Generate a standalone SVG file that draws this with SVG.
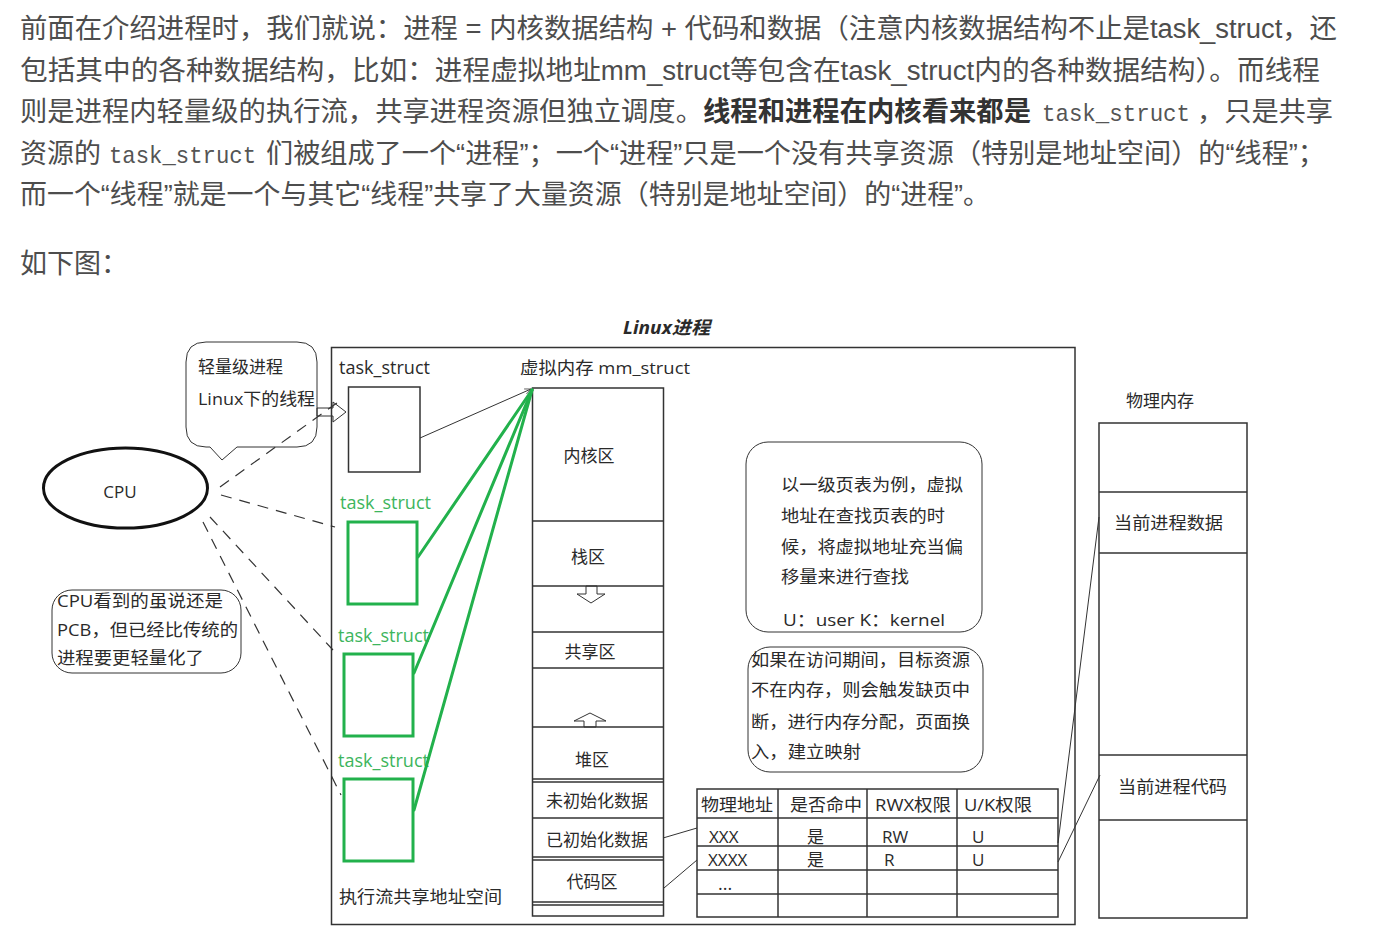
<svg xmlns="http://www.w3.org/2000/svg" width="1381" height="928" viewBox="0 0 1381 928">
<defs>
<style>
.p{font-family:"Liberation Sans","Noto Sans CJK SC",sans-serif;font-size:27px;fill:#4d4d4d}
.b{font-weight:bold;fill:#333}
.m{font-family:"Liberation Mono","DejaVu Sans Mono",monospace;font-size:24px;fill:#555}
.t{font-family:"Open Sans","Noto Sans CJK SC",sans-serif;font-size:18px;fill:#2a2a2a}
.s{font-size:17px}
.c{text-anchor:middle}
.gt{fill:#3db55c}
.ln{fill:none;stroke:#333;stroke-width:1.5}
.thin{fill:none;stroke:#333;stroke-width:1}
.gr{fill:none;stroke:#22b14c;stroke-width:3}
.gl{fill:none;stroke:#22b14c;stroke-width:3;stroke-linecap:round}
.dash{fill:none;stroke:#333;stroke-width:1.2;stroke-dasharray:11 8}
</style>
<marker id="ah" viewBox="0 0 10 10" refX="9" refY="5" markerWidth="7" markerHeight="7" orient="auto">
<path d="M0,1 L9,5 L0,9" fill="none" stroke="#333" stroke-width="1"/>
</marker>
</defs>
<rect width="1381" height="928" fill="#fff"/>

<g id="paragraph">
<text class="p" x="20" y="38" textLength="1317" lengthAdjust="spacingAndGlyphs">前面在介绍进程时，我们就说：进程 = 内核数据结构 + 代码和数据（注意内核数据结构不止是task_struct，还</text>
<text class="p" x="20" y="80" textLength="1300" lengthAdjust="spacingAndGlyphs">包括其中的各种数据结构，比如：进程虚拟地址mm_struct等包含在task_struct内的各种数据结构）。而线程</text>
<text class="p" x="20" y="121" textLength="683" lengthAdjust="spacingAndGlyphs">则是进程内轻量级的执行流，共享进程资源但独立调度。</text>
<text class="p b" x="703" y="121" textLength="328" lengthAdjust="spacingAndGlyphs">线程和进程在内核看来都是</text>
<text class="m" x="1042" y="121" textLength="148" lengthAdjust="spacingAndGlyphs">task_struct</text>
<text class="p" x="1197" y="121" textLength="136" lengthAdjust="spacingAndGlyphs">，只是共享</text>
<text class="p" x="20" y="163" textLength="81" lengthAdjust="spacingAndGlyphs">资源的</text>
<text class="m" x="109" y="163" textLength="147" lengthAdjust="spacingAndGlyphs">task_struct</text>
<text class="p" x="266" y="163" textLength="1059" lengthAdjust="spacingAndGlyphs">们被组成了一个“进程”；一个“进程”只是一个没有共享资源（特别是地址空间）的“线程”；</text>
<text class="p" x="20" y="204" textLength="970" lengthAdjust="spacingAndGlyphs">而一个“线程”就是一个与其它“线程”共享了大量资源（特别是地址空间）的“进程”。</text>
<text class="p" x="20" y="273">如下图：</text>
</g>

<g id="title">
<text class="t" x="623" y="334" font-weight="bold" font-style="italic" textLength="87" lengthAdjust="spacingAndGlyphs">Linux进程</text>
</g>

<g id="process-frame">
<rect class="ln" x="331.5" y="347.5" width="743.5" height="577"/>
<text class="t" x="339" y="374" textLength="91" lengthAdjust="spacingAndGlyphs">task_struct</text>
<text class="t s" x="520" y="374" textLength="170" lengthAdjust="spacingAndGlyphs">虚拟内存 mm_struct</text>
<text class="t s" x="339" y="903" textLength="163" lengthAdjust="spacingAndGlyphs">执行流共享地址空间</text>
</g>

<g id="task-main">
<rect class="ln" x="348.5" y="387" width="71.5" height="85"/>
</g>

<g id="task-green-1">
<text class="t gt" x="340" y="509" textLength="91" lengthAdjust="spacingAndGlyphs">task_struct</text>
<rect class="gr" x="348" y="522" width="69" height="82"/>
</g>
<g id="task-green-2">
<text class="t gt" x="338" y="642" textLength="91" lengthAdjust="spacingAndGlyphs">task_struct</text>
<rect class="gr" x="344" y="654" width="69" height="82"/>
</g>
<g id="task-green-3">
<text class="t gt" x="338" y="767" textLength="91" lengthAdjust="spacingAndGlyphs">task_struct</text>
<rect class="gr" x="344" y="779" width="69" height="82"/>
</g>

<g id="mm-struct">
<rect class="ln" x="532.5" y="388" width="131" height="528"/>
<line class="ln" x1="532.5" y1="521" x2="663.5" y2="521"/>
<line class="ln" x1="532.5" y1="586" x2="663.5" y2="586"/>
<line class="ln" x1="532.5" y1="632" x2="663.5" y2="632"/>
<line class="ln" x1="532.5" y1="668" x2="663.5" y2="668"/>
<line class="ln" x1="532.5" y1="727" x2="663.5" y2="727"/>
<line class="ln" x1="532.5" y1="779" x2="663.5" y2="779"/>
<line class="ln" x1="532.5" y1="782" x2="663.5" y2="782"/>
<line class="ln" x1="532.5" y1="818" x2="663.5" y2="818"/>
<line class="ln" x1="532.5" y1="857" x2="663.5" y2="857"/>
<line class="ln" x1="532.5" y1="860" x2="663.5" y2="860"/>
<line class="ln" x1="532.5" y1="902" x2="663.5" y2="902"/>
<line class="ln" x1="532.5" y1="905" x2="663.5" y2="905"/>
<polygon class="thin" points="586,586 597,586 597,594 605,594 591,603 577,594 586,594"/>
<polygon class="thin" points="590,713 606,721 596,721 596,727 584,727 584,721 574,721"/>
<text class="t s c" x="589" y="462">内核区</text>
<text class="t s c" x="588" y="563">栈区</text>
<text class="t s c" x="590" y="658">共享区</text>
<text class="t s c" x="592" y="766">堆区</text>
<text class="t s c" x="597" y="807">未初始化数据</text>
<text class="t s c" x="597" y="846">已初始化数据</text>
<text class="t s c" x="592" y="888">代码区</text>
</g>

<g id="bubble-lwp">
<path class="thin" d="M206,342 H297 Q317,342 317,362 V427 Q317,447 297,447 H237 L222,460 L210,447 H206 Q186,447 186,427 V362 Q186,342 206,342 Z"/>
<text class="t s" x="198" y="373">轻量级进程</text>
<text class="t s" x="198" y="405" textLength="117" lengthAdjust="spacingAndGlyphs">Linux下的线程</text>
</g>

<g id="cpu">
<ellipse cx="125.5" cy="488" rx="82" ry="40" fill="none" stroke="#111" stroke-width="3"/>
<text class="t s c" x="120" y="498">CPU</text>
</g>

<g id="note-pcb">
<rect class="thin" x="52" y="590" width="189" height="83" rx="20"/>
<text class="t s" x="57" y="607" textLength="166" lengthAdjust="spacingAndGlyphs">CPU看到的虽说还是</text>
<text class="t s" x="57" y="636" textLength="181" lengthAdjust="spacingAndGlyphs">PCB，但已经比传统的</text>
<text class="t s" x="57" y="664" textLength="147" lengthAdjust="spacingAndGlyphs">进程要更轻量化了</text>
</g>

<g id="note-pagetable">
<rect class="thin" x="746" y="442" width="236" height="190" rx="22"/>
<text class="t s" x="781" y="491" textLength="182" lengthAdjust="spacingAndGlyphs">以一级页表为例，虚拟</text>
<text class="t s" x="781" y="522" textLength="164" lengthAdjust="spacingAndGlyphs">地址在查找页表的时</text>
<text class="t s" x="781" y="553" textLength="182" lengthAdjust="spacingAndGlyphs">候，将虚拟地址充当偏</text>
<text class="t s" x="781" y="583" textLength="128" lengthAdjust="spacingAndGlyphs">移量来进行查找</text>
<text class="t s" x="783" y="626" textLength="162" lengthAdjust="spacingAndGlyphs">U：user   K：kernel</text>
</g>

<g id="note-pagefault">
<rect class="thin" x="748" y="647" width="235" height="125" rx="22"/>
<text class="t s" x="751" y="666" textLength="219" lengthAdjust="spacingAndGlyphs">如果在访问期间，目标资源</text>
<text class="t s" x="751" y="696" textLength="219" lengthAdjust="spacingAndGlyphs">不在内存，则会触发缺页中</text>
<text class="t s" x="751" y="728" textLength="219" lengthAdjust="spacingAndGlyphs">断，进行内存分配，页面换</text>
<text class="t s" x="751" y="758" textLength="110" lengthAdjust="spacingAndGlyphs">入，建立映射</text>
</g>

<g id="page-table">
<rect class="ln" x="697" y="789" width="361" height="128"/>
<line class="ln" x1="778" y1="789" x2="778" y2="917"/>
<line class="ln" x1="867" y1="789" x2="867" y2="917"/>
<line class="ln" x1="957" y1="789" x2="957" y2="917"/>
<line class="ln" x1="697" y1="818" x2="1058" y2="818"/>
<line class="ln" x1="697" y1="846" x2="1058" y2="846"/>
<line class="ln" x1="697" y1="870" x2="1058" y2="870"/>
<line class="ln" x1="697" y1="894" x2="1058" y2="894"/>
<text class="t s" x="701" y="811" textLength="72" lengthAdjust="spacingAndGlyphs">物理地址</text>
<text class="t s" x="790" y="811" textLength="72" lengthAdjust="spacingAndGlyphs">是否命中</text>
<text class="t s" x="875" y="811" textLength="76" lengthAdjust="spacingAndGlyphs">RWX权限</text>
<text class="t s" x="964" y="811" textLength="68" lengthAdjust="spacingAndGlyphs">U/K权限</text>
<text class="t s" x="709" y="843">XXX</text>
<text class="t s" x="807" y="843">是</text>
<text class="t s" x="882" y="843">RW</text>
<text class="t s" x="972" y="843">U</text>
<text class="t s" x="708" y="866">XXXX</text>
<text class="t s" x="807" y="866">是</text>
<text class="t s" x="884" y="866">R</text>
<text class="t s" x="972" y="866">U</text>
<text class="t" x="718" y="890" font-size="11">...</text>
</g>

<g id="physical-memory">
<text class="t s" x="1126" y="407">物理内存</text>
<rect class="ln" x="1099" y="423" width="148" height="495"/>
<line class="ln" x1="1099" y1="492" x2="1247" y2="492"/>
<line class="ln" x1="1099" y1="553" x2="1247" y2="553"/>
<line class="ln" x1="1099" y1="755" x2="1247" y2="755"/>
<line class="ln" x1="1099" y1="820" x2="1247" y2="820"/>
<text class="t s" x="1114" y="529" textLength="109" lengthAdjust="spacingAndGlyphs">当前进程数据</text>
<text class="t s" x="1118" y="793" textLength="109" lengthAdjust="spacingAndGlyphs">当前进程代码</text>
</g>

<g id="connectors">
<line class="thin" x1="420" y1="438" x2="531" y2="389" marker-end="url(#ah)"/>
<line class="gl" x1="418" y1="557" x2="532" y2="390"/>
<line class="gl" x1="414" y1="673" x2="532" y2="390"/>
<line class="gl" x1="414" y1="810" x2="532" y2="390"/>
<polygon class="thin" points="317,408 333,408 333,402 346,412 333,422 333,416 317,416" fill="#fff"/>
<line class="dash" x1="220" y1="487" x2="341" y2="400"/>
<line class="dash" x1="221" y1="495" x2="335" y2="527"/>
<line class="dash" x1="210" y1="517" x2="333" y2="650"/>
<line class="dash" x1="203" y1="522" x2="341" y2="795"/>
<line class="thin" x1="663" y1="838" x2="697" y2="828"/>
<line class="thin" x1="664" y1="888" x2="697" y2="860"/>
<line class="thin" x1="1058" y1="843" x2="1099" y2="517"/>
<line class="thin" x1="1058" y1="862" x2="1100" y2="775"/>
</g>
</svg>
